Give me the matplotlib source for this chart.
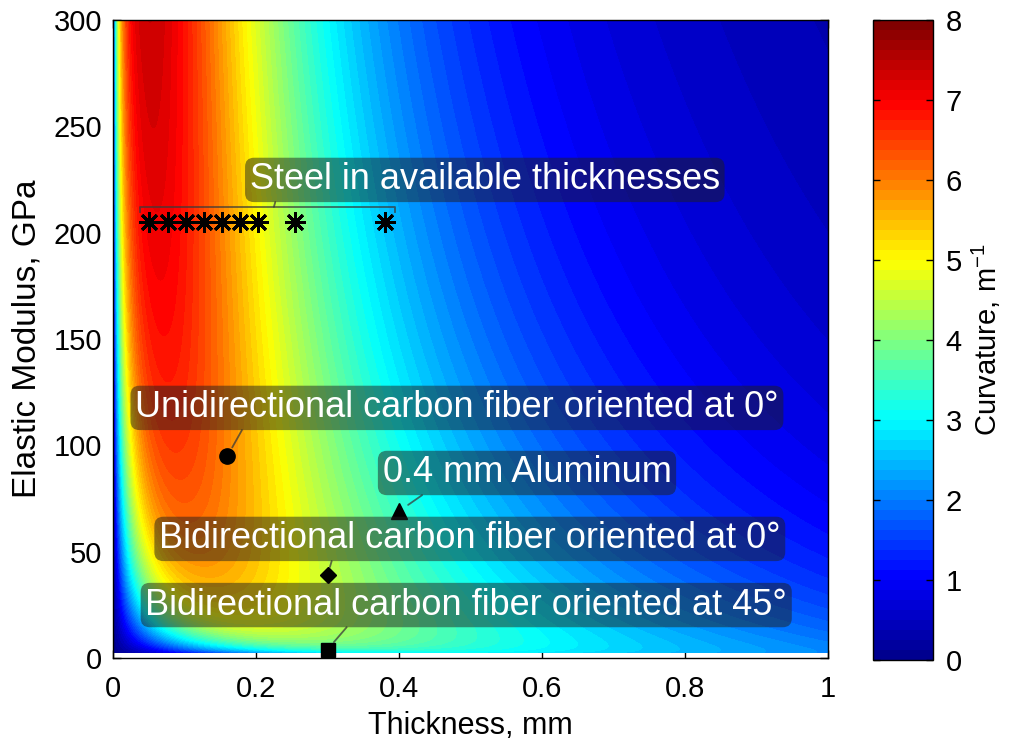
import numpy as np
import matplotlib
matplotlib.use("Agg")
import matplotlib.pyplot as plt
from matplotlib.colors import LinearSegmentedColormap

plt.rcParams['font.family'] = ['Liberation Sans', 'DejaVu Sans']
plt.rcParams['mathtext.fontset'] = 'custom'
plt.rcParams['mathtext.rm'] = 'Liberation Sans'
plt.rcParams['mathtext.it'] = 'Liberation Sans'

# Substrate design space
thickness_mm = np.linspace(0.0005, 1.0, 700)
modulus_gpa = np.linspace(2.5, 300.0, 500)

# Active (actuating) layer bonded to the substrate
actuator_thickness_mm = 0.3
actuator_modulus_gpa = 30.0
mismatch_strain = 1.82e-3

# Candidate substrate materials: (thickness mm, modulus GPa)
steel_thickness_in = [0.002, 0.003, 0.004, 0.005, 0.006, 0.007, 0.008, 0.010, 0.015]
steel_modulus_gpa = 205.0
uni_cf = (0.16, 95.0)
aluminum = (0.4, 69.0)
bi_cf_0 = (0.3, 39.0)
bi_cf_45 = (0.3, 4.0)

steel_thickness_mm = np.array(steel_thickness_in) * 25.4


def bilayer_curvature(t, E):
    """Timoshenko bilayer curvature (1/m) for substrate thickness t (mm), modulus E (GPa)."""
    m = actuator_thickness_mm / t
    n = actuator_modulus_gpa / E
    denom = 3.0 * (1 + m) ** 2 + (1 + m * n) * (m ** 2 + 1.0 / (m * n))
    h = (actuator_thickness_mm + t) * 1e-3
    return 6.0 * mismatch_strain * (1 + m) ** 2 / (h * denom)


T, E = np.meshgrid(thickness_mm, modulus_gpa)
K = bilayer_curvature(T, E)

jet = LinearSegmentedColormap.from_list(
    'jet64',
    [(0.0, (0, 0, 0.5625)), (0.125, (0, 0, 1)), (0.375, (0, 1, 1)),
     (0.625, (1, 1, 0)), (0.875, (1, 0, 0)), (1.0, (0.5, 0, 0))], N=64)

fig = plt.figure(figsize=(10.11, 7.40), dpi=100)
ax = fig.add_axes([0.1118, 0.1108, 0.7072, 0.8622])
cax = fig.add_axes([0.8635, 0.1081, 0.0593, 0.8649])

levels = np.linspace(0, 8, 65)
cs = ax.contourf(T, E, K, levels=levels, cmap=jet, vmin=0, vmax=8)

ax.set_xlim(0, 1)
ax.set_ylim(0, 300)
ax.set_xticks([0, 0.2, 0.4, 0.6, 0.8, 1])
ax.set_xticklabels(['0', '0.2', '0.4', '0.6', '0.8', '1'])
ax.set_yticks([0, 50, 100, 150, 200, 250, 300])
ax.set_axisbelow(True)
ax.tick_params(axis='both', direction='in', length=6, width=1, labelsize=21, top=True, right=True)
ax.tick_params(axis='x', pad=12)
ax.tick_params(axis='y', pad=8)
for s in ax.spines.values():
    s.set_linewidth(1.0)
ax.set_xlabel('Thickness, mm', fontsize=22, labelpad=6)
ax.set_ylabel('Elastic Modulus, GPa', fontsize=24, labelpad=8)

# Material points
ax.plot(steel_thickness_mm, np.full(len(steel_thickness_mm), steel_modulus_gpa),
        linestyle='none', marker=(8, 2, 0), markersize=15, markeredgewidth=2.1,
        color='black', zorder=5)
ax.plot(*uni_cf, 'o', color='black', markersize=11, zorder=5)
ax.plot(*aluminum, '^', color='black', markersize=12, zorder=5)
ax.plot(*bi_cf_0, 'D', color='black', markersize=8, zorder=5)
ax.plot(*bi_cf_45, 's', color='black', markersize=10, zorder=5)

box = dict(boxstyle='round,pad=0.13,rounding_size=0.25', fc='#1e1e1e', ec='none', alpha=0.5)
leader = dict(arrowstyle='-', color='#3a3a3a', lw=1.3, alpha=0.75, shrinkA=0)

notes = [
    ('Unidirectional carbon fiber oriented at 0°', uni_cf, (0.481, 117.6), 0.17, 7),
    ('0.4 mm Aluminum', aluminum, (0.579, 87.0), 0.16, 8),
    ('Bidirectional carbon fiber oriented at 0°', bi_cf_0, (0.499, 56.0), 0.28, 6),
    ('Bidirectional carbon fiber oriented at 45°', bi_cf_45, (0.494, 24.9), 0.32, 7),
]
for label, xy, xytext, rel, shrink in notes:
    ax.annotate(label, xy=xy, xytext=xytext, ha='center', va='center',
                color='white', fontsize=26, bbox=box, zorder=6,
                arrowprops=dict(leader, relpos=(rel, 0.0), shrinkB=shrink))

# Bracket grouping the steel gauges
t_lo = steel_thickness_mm.min() - 0.013
t_hi = steel_thickness_mm.max() + 0.013
ax.plot([t_lo, t_lo, t_hi, t_hi], [209.5, 212.1, 212.1, 209.5],
        color='#3a3a3a', lw=1.3, alpha=0.75, zorder=5)
ax.annotate('Steel in available thicknesses', xy=(0.225, 212.1), xytext=(0.520, 224.8),
            ha='center', va='center', color='white', fontsize=26, bbox=box, zorder=6,
            arrowprops=dict(leader, relpos=(0.057, 0.0), shrinkB=0))

cb = fig.colorbar(cs, cax=cax, ticks=range(9))
cb.outline.set_linewidth(1.0)
cax.tick_params(direction='in', length=5, width=1, labelsize=21, left=True, right=True, pad=9)
cb.set_label('Curvature, m$^{-1}$', fontsize=21, labelpad=6)

fig.savefig('out.png', dpi=100)
